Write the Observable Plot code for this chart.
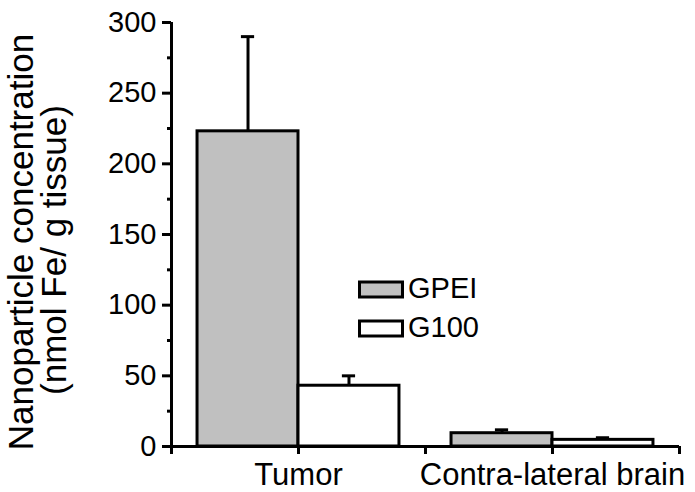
<!DOCTYPE html>
<html>
<head>
<meta charset="utf-8">
<script src="https://cdn.jsdelivr.net/npm/d3@7"></script>
<script src="https://cdn.jsdelivr.net/npm/@observablehq/plot@0.6"></script>
<style>
  html, body { margin: 0; padding: 0; background: white; }
  #chart { width: 695px; height: 492px; }
</style>
</head>
<body>
<div id="chart"></div>
<script>
const categories = ["Tumor", "Contra-lateral brain"];
const seriesNames = ["GPEI", "G100"];
const gpeiMean = [223, 9.4];
const gpeiErr = [67, 2.4];
const g100Mean = [43, 4.7];
const g100Err = [7, 1.5];
const yTicks = [0, 50, 100, 150, 200, 250, 300];
const yMinorTicks = [25, 75, 125, 175, 225, 275];
const seriesFill = ["#c0c0c0", "#ffffff"];
const yTitle = ["Nanoparticle concentration", "(nmol Fe/ g tissue)"];

const BAR = 0.795;   // bar width in category units
const CAP = 0.052;   // half-width of error-bar cap
const means = [gpeiMean, g100Mean];
const errs = [gpeiErr, g100Err];

const rows = [];
categories.forEach((c, i) => {
  const center = 1 + 2 * i;
  seriesNames.forEach((s, k) => {
    const x1 = k === 0 ? center - BAR : center;
    const x2 = k === 0 ? center : center + BAR;
    rows.push({category: c, series: s, mean: means[k][i], err: errs[k][i], x1, x2, xc: (x1 + x2) / 2});
  });
});
const xTickPos = [0, 1, 2, 3, 4];
const xLabel = d => (d % 2 === 1 ? categories[(d - 1) / 2] : "");

const FONT = "'Liberation Sans', Arial, Helvetica, sans-serif";

const chart = Plot.plot({
  width: 695,
  height: 492,
  marginLeft: 171,
  marginRight: 16,
  marginTop: 22,
  marginBottom: 46,
  style: {fontFamily: FONT, background: "white", color: "black", overflow: "visible"},
  x: {domain: [0, 4], axis: null},
  y: {domain: [0, 300], axis: null},
  color: {domain: seriesNames, range: seriesFill},
  marks: [
    Plot.rect(rows, {x1: "x1", x2: "x2", y1: 0, y2: "mean", fill: "series", stroke: "black", strokeWidth: 3}),
    Plot.ruleX(rows, {x: "xc", y1: "mean", y2: d => d.mean + d.err, stroke: "black", strokeWidth: 3}),
    Plot.ruleY(rows, {y: d => d.mean + d.err, x1: d => d.xc - CAP, x2: d => d.xc + CAP, stroke: "black", strokeWidth: 3}),
    Plot.ruleX([0], {y1: 0, y2: 300, stroke: "black", strokeWidth: 3}),
    Plot.ruleY([0], {x1: 0, x2: 4, stroke: "black", strokeWidth: 3}),
    Plot.axisY({ticks: yTicks, tickSize: 9, tickPadding: 6, fontSize: 29, strokeWidth: 3, label: null}),
    Plot.axisY({ticks: yMinorTicks, tickSize: 4, tickFormat: () => "", strokeWidth: 3, label: null}),
    Plot.axisX({ticks: xTickPos, tickSize: 8, tickPadding: 8, fontSize: 31, tickFormat: xLabel, strokeWidth: 3, label: null})
  ]
});

const svg = d3.select(chart);
// legend
const legend = svg.append("g").attr("font-family", FONT).attr("font-size", 29).attr("text-anchor", "start");
const legendY = [282, 321];
seriesNames.forEach((s, k) => {
  legend.append("rect")
    .attr("x", 359.5).attr("y", legendY[k]).attr("width", 43).attr("height", 15)
    .attr("fill", seriesFill[k]).attr("stroke", "black").attr("stroke-width", 3);
  legend.append("text")
    .attr("x", 408).attr("y", legendY[k] + 16)
    .attr("fill", "black").text(s);
});
// y title
const yt = svg.append("g").attr("font-family", FONT).attr("font-size", 35).attr("text-anchor", "middle");
const titleX = [33, 66];
const titleY = [242, 250];
yTitle.forEach((t, k) => {
  yt.append("text")
    .attr("transform", `translate(${titleX[k]},${titleY[k]}) rotate(-90)`)
    .attr("fill", "black").text(t);
});

document.getElementById("chart").appendChild(chart);
</script>
</body>
</html>
